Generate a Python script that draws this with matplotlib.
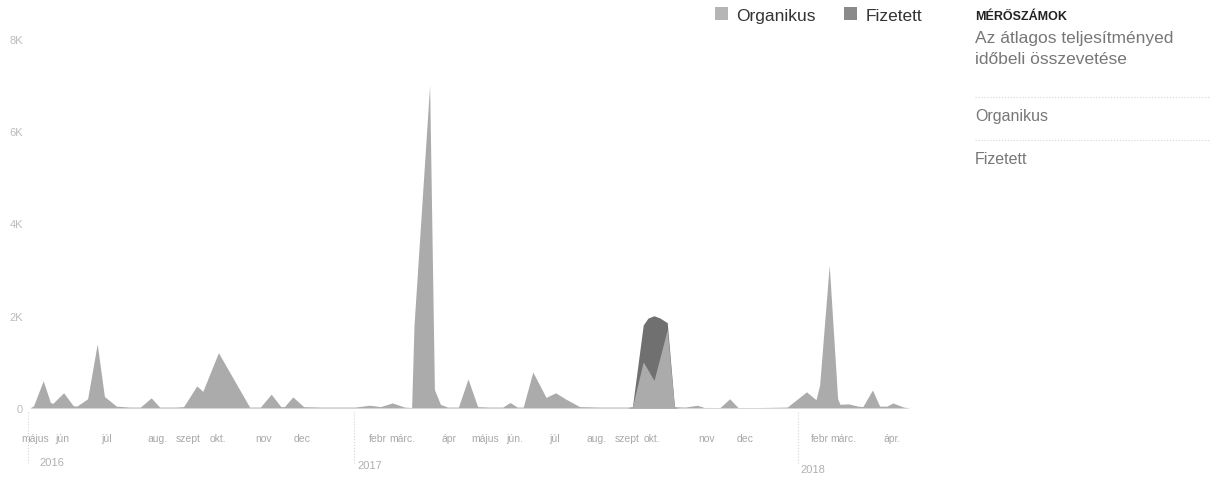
import matplotlib
matplotlib.use("Agg")
import matplotlib.pyplot as plt
from matplotlib.patches import Patch
from matplotlib.lines import Line2D

plt.rcParams['font.family'] = ['Liberation Sans', 'DejaVu Sans']

# napok 2016-05-01 ota
org_x = [0, 3, 11, 17, 19, 28, 36, 39, 48, 56, 62, 72, 83, 92, 101, 108, 121, 128,
         139, 144, 157, 183, 192, 201, 209, 212, 219, 228, 242, 271, 283, 292, 302,
         312, 318, 320, 333, 337, 342, 348, 357, 365, 373, 383, 394, 400, 406, 411,
         419, 430, 438, 446, 458, 475, 498, 502, 511, 520, 531, 537, 546, 556, 562,
         575, 583, 590, 608, 631, 647, 655, 658, 666, 673, 675, 682, 690, 694, 702,
         708, 714, 719, 728, 733]
org_y = [0, 50, 590, 120, 100, 330, 50, 40, 200, 1390, 250, 40, 20, 20, 220, 20, 20, 30,
         480, 360, 1200, 20, 20, 300, 30, 30, 240, 30, 20, 20, 60, 30, 110,
         20, 10, 1800, 7000, 400, 80, 20, 20, 630, 30, 20, 20, 120, 20, 20,
         780, 230, 330, 200, 30, 20, 20, 30, 1000, 600, 1700, 30, 20, 60, 10,
         10, 200, 10, 10, 20, 350, 180, 500, 3100, 200, 80, 90, 40, 30, 390,
         40, 40, 110, 20, 0]

paid_x = [0, 498, 502, 511, 515, 520, 525, 531, 537, 540, 733]
paid_y = [0, 0, 30, 1800, 1950, 2000, 1950, 1850, 30, 0, 0]

series_names = ['Organikus', 'Fizetett']
colors = ['#ababab', '#707070']

month_pos = [4, 27, 64, 106, 132, 157, 195, 227, 290, 310, 349, 379, 404, 437,
             472, 498, 518, 564, 596, 658, 678, 718]
month_labels = ['május', 'jún', 'júl', 'aug.', 'szept', 'okt.', 'nov', 'dec',
                'febr', 'márc.', 'ápr', 'május', 'jún.', 'júl', 'aug.', 'szept',
                'okt.', 'nov', 'dec', 'febr', 'márc.', 'ápr.']
year_pos = [18, 283, 652]
year_labels = ['2016', '2017', '2018']

yticks = [0, 2000, 4000, 6000, 8000]
ytick_labels = ['0', '2K', '4K', '6K', '8K']

W, H = 1218, 481
fig = plt.figure(figsize=(W / 100, H / 100), dpi=100)
ax = fig.add_axes([30 / W, 1 - 409 / H, 895 / W, 369 / H])

ax.fill_between(paid_x, paid_y, 0, color=colors[1], lw=0, zorder=2)
ax.fill_between(org_x, org_y, 0, color=colors[0], lw=0, zorder=3)
ax.axhline(0, color='#c8c8c8', ls=':', lw=0.8, zorder=1)

ax.set_xlim(0, 745.8)
ax.set_ylim(0, 8000)
for s in ax.spines.values():
    s.set_visible(False)

ax.set_xticks(month_pos, month_labels)
ax.set_yticks(yticks, ytick_labels)
ax.tick_params(axis='x', length=0, pad=18, labelsize=7.5, labelcolor='#a8a8a8')
ax.tick_params(axis='y', length=0, pad=5, labelsize=8, labelcolor='#bcbcbc')

# evek
for xp, lab, yo in zip(year_pos, year_labels, [-0.146, -0.154, -0.165]):
    ax.annotate(lab, (xp, yo), xycoords=('data', 'axes fraction'),
                ha='center', va='center', fontsize=8, color='#b0b0b0',
                annotation_clip=False)
for xp in [-2, 270, 640]:
    ax.plot([xp, xp], [-0.01, -0.15], transform=ax.get_xaxis_transform(),
            color='#d5d5d5', ls=':', lw=0.8, clip_on=False)

# legenda
handles = [Patch(facecolor=c, edgecolor='none') for c in ['#b5b5b5', '#8a8a8a']]
fig.legend(handles, series_names, loc='center left', bbox_to_anchor=(706 / W, 1 - 16 / H),
           ncol=2, frameon=False, fontsize=12.5, handlelength=0.75, handleheight=0.75,
           handletextpad=0.5, columnspacing=1.6, borderpad=0, labelcolor='#333333')

# jobb oldali panel
px = 975 / W
fig.text(px, 1 - 17 / H, 'MÉRŐSZÁMOK', fontsize=9, fontweight='bold', color='#222222', va='center')
fig.text(px, 1 - 38 / H, 'Az átlagos teljesítményed', fontsize=12.5, color='#777777', va='center')
fig.text(px, 1 - 59 / H, 'időbeli összevetése', fontsize=12.5, color='#777777', va='center')
fig.text(px, 1 - 117 / H, 'Organikus', fontsize=11.5, color='#777777', va='center')
fig.text(px, 1 - 160 / H, 'Fizetett', fontsize=11.5, color='#777777', va='center')
for yy in [98, 141]:
    fig.add_artist(Line2D([px, 1210 / W], [1 - yy / H, 1 - yy / H], color='#d5d5d5',
                          ls=':', lw=0.8))

fig.savefig('out.png', dpi=100, facecolor='white')
